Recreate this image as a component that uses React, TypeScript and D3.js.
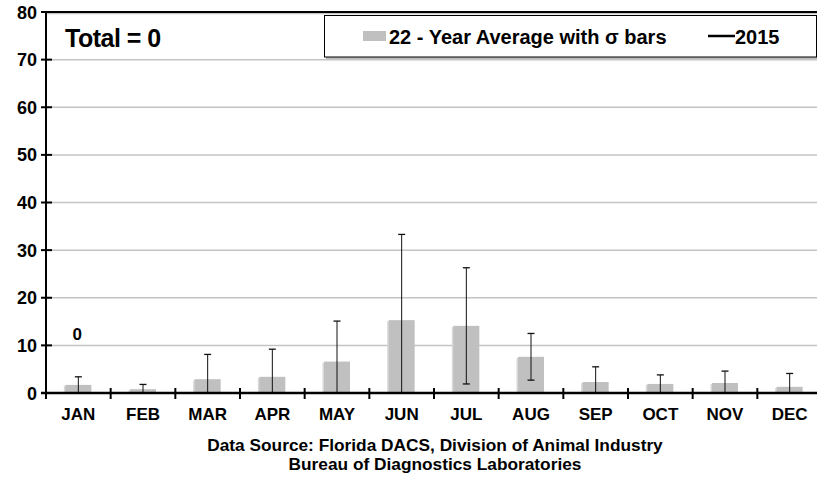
import { useRef, useEffect } from "react";
import * as d3 from "d3";

const months = ["JAN", "FEB", "MAR", "APR", "MAY", "JUN", "JUL", "AUG", "SEP", "OCT", "NOV", "DEC"];
// 22-year average cases per month
const avgValues = [1.7, 0.8, 2.9, 3.4, 6.6, 15.3, 14.1, 7.6, 2.3, 1.9, 2.1, 1.3];
// standard deviation (sigma bars)
const sdValues = [1.7, 1.0, 5.2, 5.8, 8.5, 18.0, 12.2, 4.9, 3.2, 1.9, 2.5, 2.8];
// 2015 reported so far
const year2015 = [0];
const yTicks = [0, 10, 20, 30, 40, 50, 60, 70, 80];

const FONT = "'Liberation Sans', Arial, sans-serif";

export default function App() {
  const svgRef = useRef<SVGSVGElement>(null);

  useEffect(() => {
    const width = 817;
    const height = 479;
    const svg = d3.select(svgRef.current);
    svg.selectAll("*").remove();
    svg.attr("width", width).attr("height", height);

    const left = 46;
    const right = 822; // plot runs off the right edge
    const top = 12;
    const bottom = 393;

    const x = d3.scaleBand<string>().domain(months).range([left, right]).paddingInner(0).paddingOuter(0);
    const y = d3.scaleLinear().domain([0, 80]).range([bottom, top]);
    const barW = 26;

    const g = svg.append("g");

    // gridlines
    g.selectAll("line.grid")
      .data(yTicks.filter((t) => t > 0 && t < 80))
      .join("line")
      .attr("class", "grid")
      .attr("x1", left)
      .attr("x2", right)
      .attr("y1", (d) => y(d))
      .attr("y2", (d) => y(d))
      .attr("stroke", "#c4c4c4")
      .attr("stroke-width", 1.5);

    // top border
    g.append("line")
      .attr("x1", left)
      .attr("x2", right)
      .attr("y1", y(80) + 1.5)
      .attr("y2", y(80) + 1.5)
      .attr("stroke", "#c4c4c4")
      .attr("stroke-width", 1.5);
    g.append("line")
      .attr("x1", left)
      .attr("x2", right)
      .attr("y1", y(80))
      .attr("y2", y(80))
      .attr("stroke", "#000")
      .attr("stroke-width", 2);

    // bars
    g.selectAll("rect.shadow")
      .data(avgValues)
      .join("rect")
      .attr("class", "shadow")
      .attr("x", (_, i) => x(months[i])! + x.bandwidth() / 2 - barW / 2 - 1.5)
      .attr("y", (d) => y(d) + 1)
      .attr("width", barW)
      .attr("height", (d) => bottom - y(d))
      .attr("fill", "#d8d8d8");
    g.selectAll("rect.bar")
      .data(avgValues)
      .join("rect")
      .attr("class", "bar")
      .attr("x", (_, i) => x(months[i])! + x.bandwidth() / 2 - barW / 2)
      .attr("y", (d) => y(d))
      .attr("width", barW)
      .attr("height", (d) => bottom - y(d))
      .attr("fill", "#c0c0c0");

    // sigma bars
    const err = g.selectAll("g.err").data(avgValues).join("g").attr("class", "err");
    err.each(function (d, i) {
      const cx = x(months[i])! + x.bandwidth() / 2;
      const hi = d + sdValues[i];
      const lo = Math.max(0, d - sdValues[i]);
      const sel = d3.select(this);
      sel.append("line")
        .attr("x1", cx).attr("x2", cx)
        .attr("y1", y(hi)).attr("y2", y(lo))
        .attr("stroke", "#111").attr("stroke-width", 1);
      sel.append("line")
        .attr("x1", cx - 3.5).attr("x2", cx + 3.5)
        .attr("y1", y(hi)).attr("y2", y(hi))
        .attr("stroke", "#111").attr("stroke-width", 1.3);
      if (lo > 0) {
        sel.append("line")
          .attr("x1", cx - 3.5).attr("x2", cx + 3.5)
          .attr("y1", y(lo)).attr("y2", y(lo))
          .attr("stroke", "#111").attr("stroke-width", 1.3);
      }
    });

    // 2015 line
    const line = d3.line<number>()
      .x((_, i) => x(months[i])! + x.bandwidth() / 2)
      .y((d) => y(d));
    g.append("path")
      .datum(year2015)
      .attr("d", line)
      .attr("fill", "none")
      .attr("stroke", "#000")
      .attr("stroke-width", 2.5);
    g.selectAll("text.val")
      .data(year2015)
      .join("text")
      .attr("class", "val")
      .attr("x", (_, i) => x(months[i])! + x.bandwidth() / 2 - 1)
      .attr("y", (d) => y(d) - 53)
      .attr("text-anchor", "middle")
      .attr("font-family", FONT)
      .attr("font-weight", "bold")
      .attr("font-size", 17)
      .text((d) => String(d));

    // y axis
    g.append("line")
      .attr("x1", left).attr("x2", left)
      .attr("y1", top - 1).attr("y2", bottom)
      .attr("stroke", "#000").attr("stroke-width", 2);
    g.selectAll("line.ytick")
      .data(yTicks)
      .join("line")
      .attr("class", "ytick")
      .attr("x1", left - 5).attr("x2", left + 6)
      .attr("y1", (d) => y(d)).attr("y2", (d) => y(d))
      .attr("stroke", "#000").attr("stroke-width", 2);
    g.selectAll("text.ylab")
      .data(yTicks)
      .join("text")
      .attr("class", "ylab")
      .attr("x", 37)
      .attr("y", (d) => y(d) + 6.5)
      .attr("text-anchor", "end")
      .attr("font-family", FONT)
      .attr("font-weight", "bold")
      .attr("font-size", 18)
      .text((d) => String(d));

    // x axis
    g.append("line")
      .attr("x1", left - 5).attr("x2", right)
      .attr("y1", bottom).attr("y2", bottom)
      .attr("stroke", "#000").attr("stroke-width", 2.5);
    g.selectAll("line.xtick")
      .data(months)
      .join("line")
      .attr("class", "xtick")
      .attr("x1", (d) => x(d)!).attr("x2", (d) => x(d)!)
      .attr("y1", bottom - 5).attr("y2", bottom + 6)
      .attr("stroke", "#000").attr("stroke-width", 2);
    g.selectAll("text.xlab")
      .data(months)
      .join("text")
      .attr("class", "xlab")
      .attr("x", (d) => x(d)! + x.bandwidth() / 2)
      .attr("y", 420)
      .attr("text-anchor", "middle")
      .attr("font-family", FONT)
      .attr("font-weight", "bold")
      .attr("font-size", 17)
      .text((d) => d);

    // total
    g.append("text")
      .attr("x", 65)
      .attr("y", 47)
      .attr("font-family", FONT)
      .attr("font-weight", "bold")
      .attr("font-size", 25)
      .attr("letter-spacing", -0.5)
      .text(`Total = ${d3.sum(year2015)}`);

    // legend
    const lg = g.append("g");
    lg.append("rect")
      .attr("x", 326).attr("y", 17)
      .attr("width", 492).attr("height", 42)
      .attr("fill", "#bbb");
    lg.append("rect")
      .attr("x", 324.5).attr("y", 15.5)
      .attr("width", 492).attr("height", 41.5)
      .attr("fill", "#fff").attr("stroke", "#000").attr("stroke-width", 1);
    lg.append("rect")
      .attr("x", 363).attr("y", 31)
      .attr("width", 23).attr("height", 10)
      .attr("fill", "#c0c0c0");
    lg.append("text")
      .attr("x", 389).attr("y", 44)
      .attr("font-family", FONT).attr("font-weight", "bold").attr("font-size", 20)
      .text("22 - Year Average with σ bars");
    lg.append("line")
      .attr("x1", 708).attr("x2", 735)
      .attr("y1", 36).attr("y2", 36)
      .attr("stroke", "#000").attr("stroke-width", 2.5);
    lg.append("text")
      .attr("x", 735).attr("y", 44)
      .attr("font-family", FONT).attr("font-weight", "bold").attr("font-size", 20)
      .text("2015");

    // source
    g.append("text")
      .attr("x", 435).attr("y", 451)
      .attr("text-anchor", "middle")
      .attr("font-family", FONT).attr("font-weight", "bold").attr("font-size", 17.3)
      .text("Data Source: Florida DACS, Division of Animal Industry");
    g.append("text")
      .attr("x", 435).attr("y", 470)
      .attr("text-anchor", "middle")
      .attr("font-family", FONT).attr("font-weight", "bold").attr("font-size", 17.3)
      .text("Bureau of Diagnostics Laboratories");
  }, []);

  return (
    <div style={{ position: "absolute", left: 0, top: 0, width: 817, height: 479, overflow: "hidden", background: "#fff" }}>
      <svg ref={svgRef} style={{ display: "block" }} />
    </div>
  );
}
